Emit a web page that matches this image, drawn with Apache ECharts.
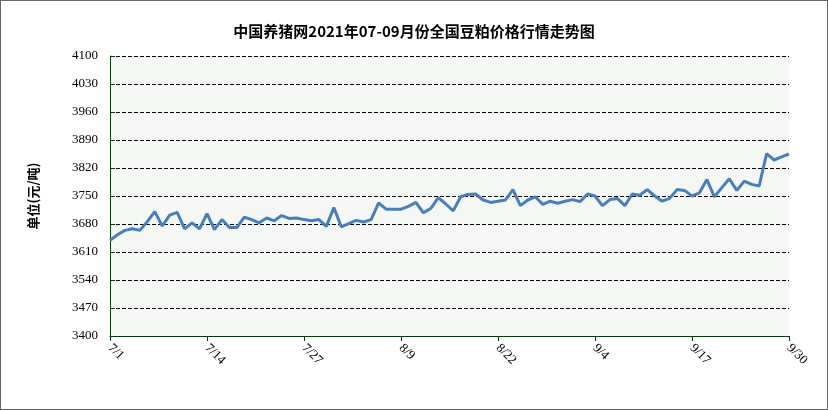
<!DOCTYPE html>
<html><head><meta charset="utf-8">
<script src="https://cdn.jsdelivr.net/npm/echarts@6/dist/echarts.min.js"></script>
<style>html,body{margin:0;padding:0;background:#fff}#c{width:828px;height:410px;box-sizing:border-box;border:1px solid #666}</style>
</head><body><div id="c"></div>
<script>
const title = '中国养猪网2021年07-09月份全国豆粕价格行情走势图';
const yName = '单位(元/吨)';
const categories = [];
(function(){const m=[[7,31],[8,31],[9,30]];for(const [mm,n] of m)for(let d=1;d<=n;d++)categories.push(mm+'/'+d);})();
const prices = [3639,3653,3664,3668,3664,3686,3711,3675,3702,3709,3668,3683,3668,3706,3666,3691,3671,3671,3697,3691,
3683,3695,3688,3701,3694,3695,3691,3688,3691,3674,3721,3673,3681,3689,3685,3691,3733,3717,3717,3717,
3724,3734,3708,3719,3746,3730,3713,3748,3754,3755,3740,3734,3737,3740,3766,3726,3740,3748,3729,3737,
3732,3737,3741,3736,3755,3750,3726,3741,3744,3726,3755,3752,3766,3750,3737,3744,3766,3764,3750,3758,
3791,3748,3771,3793,3764,3787,3779,3775,3856,3840,3848,3855];
const yTicks = {min:3400,max:4100,interval:70};
const chart = echarts.init(document.getElementById('c'));
const serif = 'Liberation Serif';
chart.setOption({
  backgroundColor:'#fff',
  title:{text:title,left:'center',top:18,textStyle:{fontSize:15,fontWeight:'bold',color:'#000',fontFamily:'Noto Sans CJK SC'}},
  grid:{left:109,right:38,top:55,bottom:73,show:true,backgroundColor:'#f5f7f4',borderWidth:0},
  xAxis:{type:'category',data:categories,boundaryGap:false,
    axisLine:{lineStyle:{color:'#0a3a0a',width:1}},axisTick:{show:true,interval:12,lineStyle:{color:'#0a3a0a'}},
    axisLabel:{interval:12,rotate:-45,color:'#000',fontSize:13,fontFamily:serif,margin:10},
    splitLine:{show:false}},
  yAxis:{type:'value',min:yTicks.min,max:yTicks.max,interval:yTicks.interval,
    name:yName,nameLocation:'middle',nameGap:70,nameRotate:90,
    nameTextStyle:{fontSize:13,fontWeight:'bold',color:'#000',fontFamily:'Noto Sans CJK SC'},
    axisLine:{show:true,lineStyle:{color:'#0a3a0a'}},axisTick:{show:true,inside:true,lineStyle:{color:'#0a3a0a'}},
    axisLabel:{color:'#000',fontSize:13,fontFamily:serif,margin:12,formatter:v=>String(v)},
    splitLine:{lineStyle:{color:'#000',type:'dashed',width:1}}},
  series:[{type:'line',data:prices,symbol:'none',lineStyle:{color:'#4a7ebb',width:3},animation:false}]
});
</script></body></html>
